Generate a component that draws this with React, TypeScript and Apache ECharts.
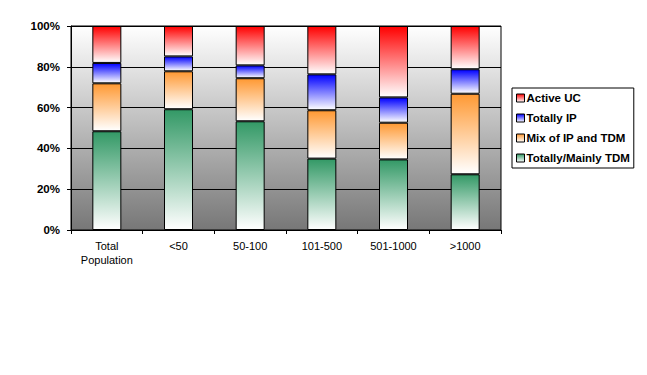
import React, { useEffect, useRef } from "react";
import * as echarts from "echarts";

const categories = ["Total\nPopulation", "<50", "50-100", "101-500", "501-1000", ">1000"];
const totallyMainlyTDM = [48.4, 59.2, 53.3, 35.0, 34.6, 27.3];
const mixIPTDM = [23.5, 18.6, 21.1, 23.7, 18.0, 39.5];
const totallyIP = [10.0, 7.3, 6.3, 17.6, 12.4, 12.0];
const activeUC = [18.1, 14.9, 19.3, 23.7, 35.0, 21.2];
const yTicks = [0, 20, 40, 60, 80, 100];

const grad = (c: string) =>
  new echarts.graphic.LinearGradient(0, 0, 0, 1, [
    { offset: 0, color: c },
    { offset: 1, color: "#ffffff" },
  ]);

export default function App() {
  const ref = useRef<HTMLDivElement>(null);
  useEffect(() => {
    const chart = echarts.init(ref.current!, null, { renderer: "svg" });
    const font = "Arial, 'Liberation Sans', sans-serif";
    const mk = (name: string, data: number[], color: string) => ({
      name,
      type: "bar",
      stack: "all",
      data,
      barWidth: 29,
      itemStyle: { color: grad(color), borderColor: "#000", borderWidth: 1 },
    });
    chart.setOption({
      animation: false,
      grid: {
        left: 71,
        top: 26,
        right: 146,
        bottom: 145,
        show: true,
        borderColor: "#000",
        borderWidth: 1,
        backgroundColor: new echarts.graphic.LinearGradient(0, 0, 0, 1, [
          { offset: 0, color: "#ffffff" },
          { offset: 1, color: "#777777" },
        ]),
      },
      legend: {
        orient: "vertical",
        left: 512,
        top: 88,
        width: 123,
        data: ["Active UC", "Totally IP", "Mix of IP and TDM", "Totally/Mainly TDM"],
        icon: "rect",
        itemWidth: 8,
        itemHeight: 8,
        itemGap: 8,
        padding: [4, 4, 4, 4],
        borderColor: "#000",
        borderWidth: 1,
        backgroundColor: "#fff",
        borderRadius: 0,
        itemStyle: { borderColor: "#000", borderWidth: 1 },
        textStyle: { fontFamily: font, fontSize: 11.5, fontWeight: "bold", color: "#000", padding: [0, 0, 0, -3] },
      },
      xAxis: {
        type: "category",
        data: categories,
        axisLine: { show: true, lineStyle: { color: "#000" } },
        axisTick: { show: true, length: 4, lineStyle: { color: "#000" } },
        axisLabel: { fontFamily: font, fontSize: 11, color: "#000", margin: 9, lineHeight: 14 },
      },
      yAxis: {
        type: "value",
        min: 0,
        max: 100,
        interval: 20,
        axisLine: { show: true, lineStyle: { color: "#000" } },
        axisTick: { show: true, length: 4, lineStyle: { color: "#000" } },
        splitLine: { show: true, lineStyle: { color: "#000", width: 1 } },
        axisLabel: {
          fontFamily: font,
          fontSize: 11.5,
          fontWeight: "bold",
          color: "#000",
          margin: 11,
          formatter: (v: number) => (yTicks.includes(v) ? v + "%" : ""),
        },
      },
      series: [
        mk("Totally/Mainly TDM", totallyMainlyTDM, "#339966"),
        mk("Mix of IP and TDM", mixIPTDM, "#ff9933"),
        mk("Totally IP", totallyIP, "#0000ff"),
        mk("Active UC", activeUC, "#ff0000"),
      ],
    });
    return () => chart.dispose();
  }, []);
  return <div ref={ref} style={{ width: 647, height: 375, position: "absolute", left: 0, top: 0 }} />;
}
